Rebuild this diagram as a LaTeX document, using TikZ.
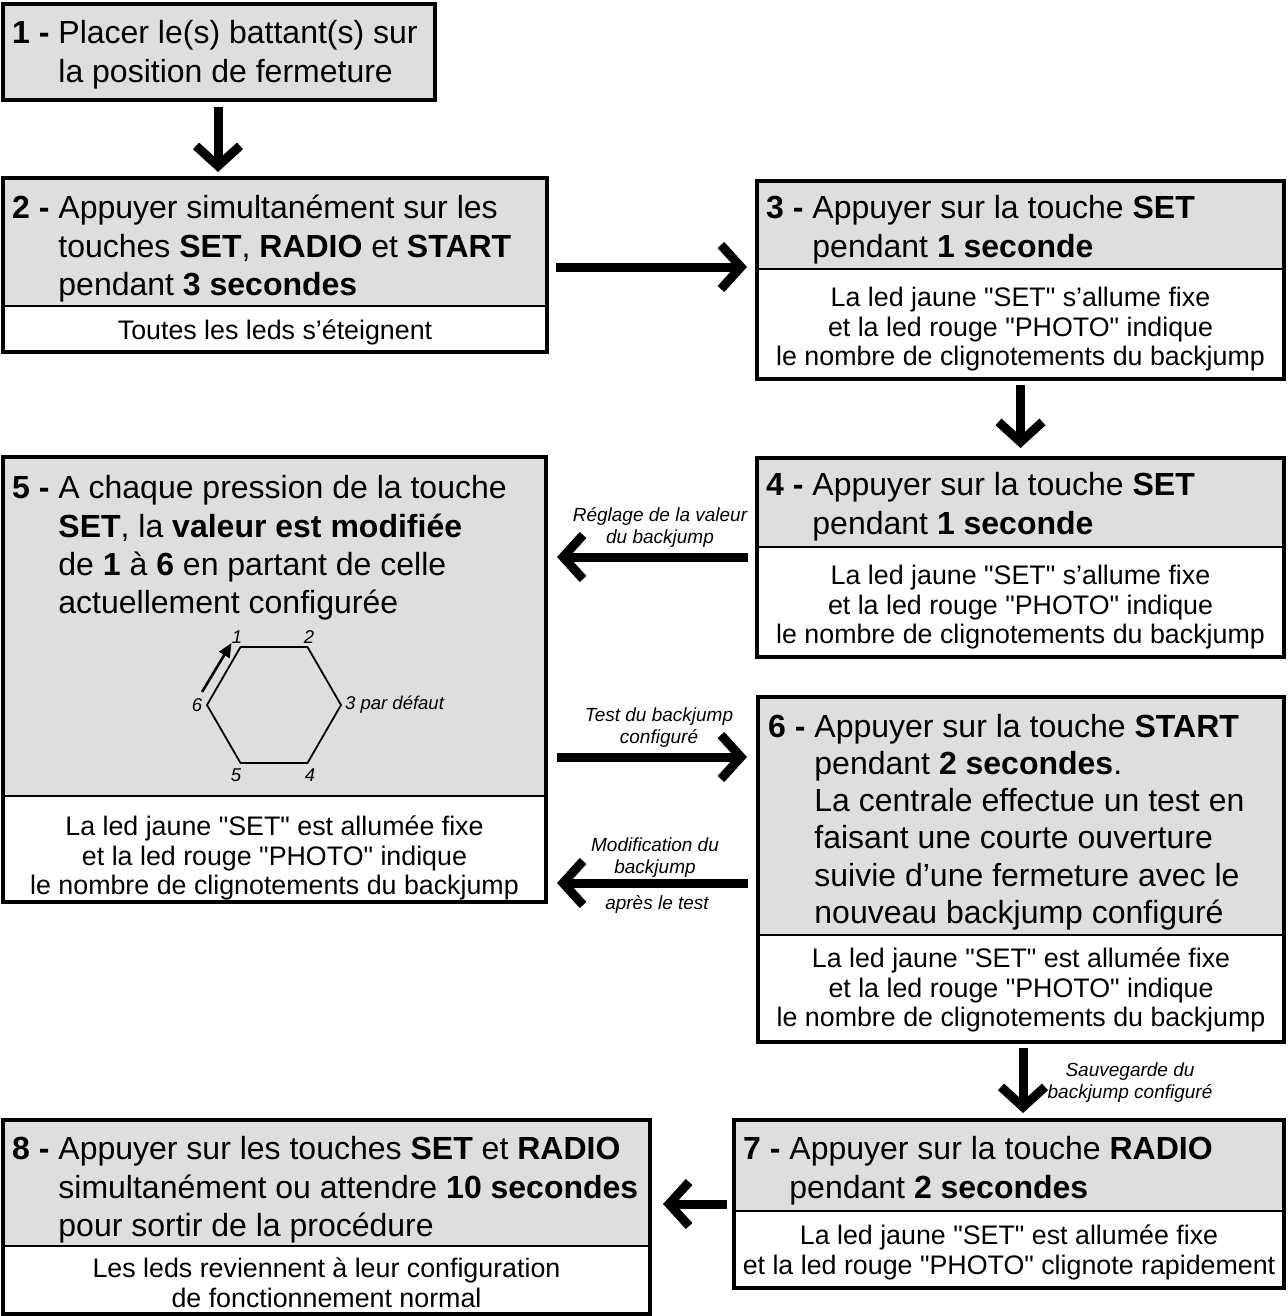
\documentclass[tikz,border=0pt]{standalone}
\usepackage{fontspec}
\setmainfont{Liberation Sans}[Ligatures=TeXOff]
\usetikzlibrary{arrows.meta,calc}
\definecolor{boxgray}{RGB}{222,222,222}
\newcommand\ind{\hphantom{\textbf{1 -}\ }}
\newcommand\fr{\rule{0pt}{30pt}}
\newcommand\fs{\rule{0pt}{25pt}}
\newcommand\fn{\rule{0pt}{18pt}}
\begin{document}
\begin{tikzpicture}[x=1pt,y=-1pt,
  part/.style={draw=black, line width=1.8pt, anchor=north west, inner sep=0pt, outer sep=0pt},
  graypart/.style={part, fill=boxgray},
  whitepart/.style={part, fill=white},
  frame/.style={draw=black, line width=4pt},
  maintext/.style={anchor=north west, inner sep=0pt, align=left, font=\fontsize{32}{38.4}\selectfont},
  subtext/.style={anchor=north, inner sep=0pt, align=center, font=\fontsize{26.8}{29.5}\selectfont},
  note/.style={anchor=north, inner sep=0pt, align=center, font=\fontsize{19}{22}\selectfont\itshape},
  hexlabel/.style={inner sep=0pt, font=\fontsize{18.5}{22}\selectfont\itshape},
  bigarrow/.style={line width=9pt, -{Straight Barb[length=20pt,width=44pt]}},
]
\useasboundingbox (0,0) rectangle (1287,1316);
\fill[white] (0,0) rectangle (1287,1316);

% Box 1
\node[graypart, minimum width=432, minimum height=96] (b1) at (3,4) {};
\draw[frame] (b1.north west) rectangle (b1.south east);
\node[maintext] (t1) at (12,13.5) {\fr\textbf{1 -} Placer le(s) battant(s) sur\\\ind la position de fermeture};

% Box 2
\node[graypart, minimum width=544, minimum height=128] (b2) at (3,178) {};
\node[whitepart, minimum width=544, minimum height=46] (b2w) at (b2.south west) {};
\draw[frame] (b2.north west) rectangle (b2w.south east);
\node[maintext] (t2) at (12,188.5) {\fr\textbf{2 -} Appuyer simultanément sur les\\\ind touches \textbf{SET}, \textbf{RADIO} et \textbf{START}\\\ind pendant \textbf{3 secondes}};
\node[subtext] (s2) at (275,314.5) {\fs Toutes les leds s’éteignent};

% Box 3
\node[graypart, minimum width=527, minimum height=88] (b3) at (757,181) {};
\node[whitepart, minimum width=527, minimum height=110] (b3w) at (b3.south west) {};
\draw[frame] (b3.north west) rectangle (b3w.south east);
\node[maintext] (t3) at (766,188.5) {\fr\textbf{3 -} Appuyer sur la touche \textbf{SET}\\\ind pendant \textbf{1 seconde}};
\node[subtext] (s3) at (1020.5,281.5) {\fs La led jaune "SET" s’allume fixe\\et la led rouge "PHOTO" indique\\le nombre de clignotements du backjump};

% Box 4
\node[graypart, minimum width=527, minimum height=89] (b4) at (757,458) {};
\node[whitepart, minimum width=527, minimum height=110] (b4w) at (b4.south west) {};
\draw[frame] (b4.north west) rectangle (b4w.south east);
\node[maintext] (t4) at (766,465.5) {\fr\textbf{4 -} Appuyer sur la touche \textbf{SET}\\\ind pendant \textbf{1 seconde}};
\node[subtext] (s4) at (1020.5,559.5) {\fs La led jaune "SET" s’allume fixe\\et la led rouge "PHOTO" indique\\le nombre de clignotements du backjump};

% Box 5
\node[graypart, minimum width=543, minimum height=339] (b5) at (3,457) {};
\node[whitepart, minimum width=543, minimum height=106] (b5w) at (b5.south west) {};
\draw[frame] (b5.north west) rectangle (b5w.south east);
\node[maintext] (t5) at (12,468.5) {\fr\textbf{5 -} A chaque pression de la touche\\\ind\textbf{SET}, la \textbf{valeur est modifiée}\\\ind de \textbf{1} à \textbf{6} en partant de celle\\\ind actuellement configurée};
\node[subtext] (s5) at (274.5,810.5) {\fs La led jaune "SET" est allumée fixe\\et la led rouge "PHOTO" indique\\le nombre de clignotements du backjump};

% Hexagon
\coordinate (h1) at (240.5,647);
\coordinate (h2) at (307.5,647);
\coordinate (h3) at (341,705);
\coordinate (h4) at (307.5,763);
\coordinate (h5) at (240.5,763);
\coordinate (h6) at (207,705);
\draw[line width=1.8pt, line join=round] (h1)--(h2)--(h3)--(h4)--(h5)--(h6)--cycle;
\draw[line width=2.6pt, -{Triangle[length=14pt,width=12pt]}] ($(h6)+(-5,-13)$) -- ($(h1)+(-9,-4)$);
\node[hexlabel] (l1) at (237,637) {1};
\node[hexlabel] (l2) at (309,637) {2};
\node[hexlabel, anchor=west] (l3) at (345,705) {3 par défaut};
\node[hexlabel] (l4) at (310,775) {4};
\node[hexlabel] (l5) at (236,775) {5};
\node[hexlabel] (l6) at (197,705) {6};

% Box 6
\node[graypart, minimum width=526, minimum height=238] (b6) at (758,697) {};
\node[whitepart, minimum width=526, minimum height=107] (b6w) at (b6.south west) {};
\draw[frame] (b6.north west) rectangle (b6w.south east);
\node[maintext, font=\fontsize{32}{37.2}\selectfont] (t6) at (768,707) {\fr\textbf{6 -} Appuyer sur la touche \textbf{START}\\\ind pendant \textbf{2 secondes}.\\\ind La centrale effectue un test en\\\ind faisant une courte ouverture\\\ind suivie d’une fermeture avec le\\\ind nouveau backjump configuré};
\node[subtext] (s6) at (1021,942.5) {\fs La led jaune "SET" est allumée fixe\\et la led rouge "PHOTO" indique\\le nombre de clignotements du backjump};

% Box 7
\node[graypart, minimum width=550, minimum height=91] (b7) at (734,1120) {};
\node[whitepart, minimum width=550, minimum height=77] (b7w) at (b7.south west) {};
\draw[frame] (b7.north west) rectangle (b7w.south east);
\node[maintext] (t7) at (743,1129.5) {\fr\textbf{7 -} Appuyer sur la touche \textbf{RADIO}\\\ind pendant \textbf{2 secondes}};
\node[subtext] (s7) at (1009,1219.5) {\fs La led jaune "SET" est allumée fixe\\et la led rouge "PHOTO" clignote rapidement};

% Box 8
\node[graypart, minimum width=647, minimum height=126] (b8) at (3,1120) {};
\node[whitepart, minimum width=647, minimum height=68] (b8w) at (b8.south west) {};
\draw[frame] (b8.north west) rectangle (b8w.south east);
\node[maintext] (t8) at (12,1129.5) {\fr\textbf{8 -} Appuyer sur les touches \textbf{SET} et \textbf{RADIO}\\\ind simultanément ou attendre \textbf{10 secondes}\\\ind pour sortir de la procédure};
\node[subtext] (s8) at (326.5,1252.5) {\fs Les leds reviennent à leur configuration\\de fonctionnement normal};

% Arrows
\draw[bigarrow] ($(b1.south)+(-1,7)$) -- ($(b1.south |- b2.north)+(-1,-6)$);
\draw[bigarrow] ($(b2.north east)+(9,89)$) -- ($(b3.north west)+(-10,86)$);
\draw[bigarrow] ($(b3w.south)+(0,6)$) -- ($(b4.north)+(0,-10)$);
\draw[bigarrow] ($(b4w.north west)+(-9,10)$) -- ($(b5.north east)+(11,100)$);
\draw[bigarrow] ($(b5.north east)+(11,300)$) -- ($(b6.north west)+(-11,60)$);
\draw[bigarrow] ($(b6.north west)+(-10,186)$) -- ($(b5w.north east)+(11,87)$);
\draw[bigarrow] ($(b6w.south)+(2,6)$) -- ($(b7.north west)+(289,-7)$);
\draw[bigarrow] ($(b7.north west)+(-7,84)$) -- ($(b8.north east)+(13,84)$);

% Arrow labels
\node[note] (n45) at (660,503.6) {\fn Réglage de la valeur\\du backjump};
\node[note] (n56) at (659,703.6) {\fn Test du backjump\\configuré};
\node[note] (n65a) at (655,833.6) {\fn Modification du\\backjump};
\node[note] (n65b) at (657,891.6) {\fn après le test};
\node[note] (n67) at (1130,1058.6) {\fn Sauvegarde du\\backjump configuré};
\end{tikzpicture}
\end{document}
